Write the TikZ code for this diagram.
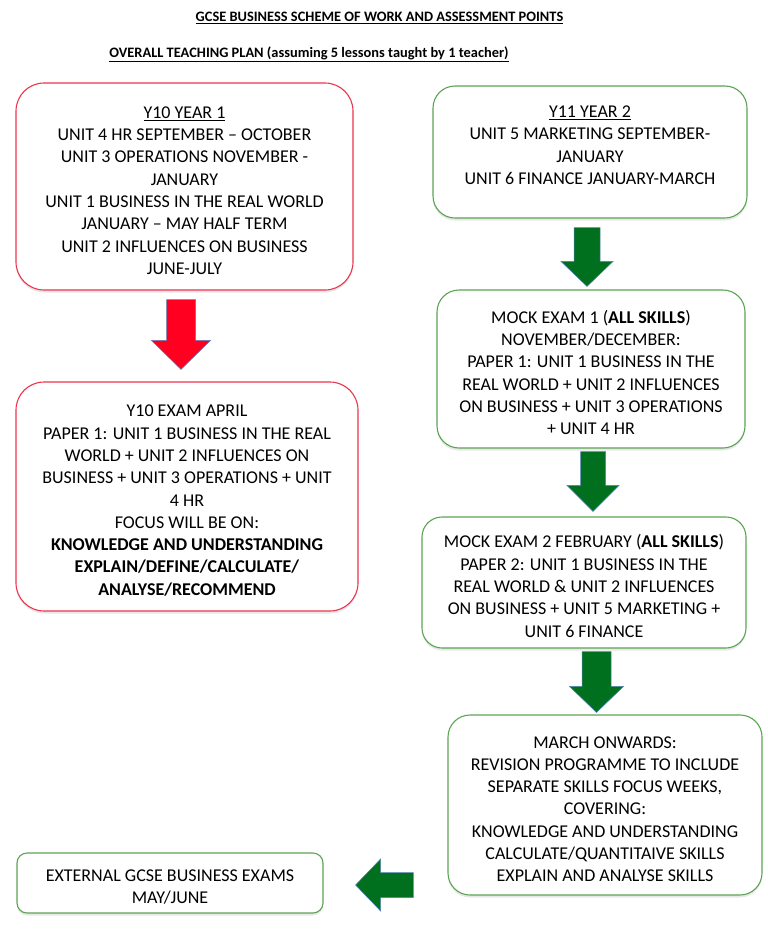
\documentclass[tikz,border=0pt]{standalone}
\usepackage{fontspec}
\setmainfont{Carlito}
\usetikzlibrary{calc,shadows}

\definecolor{boxred}{RGB}{236,52,78}
\definecolor{boxgreen}{RGB}{92,164,84}
\definecolor{arrred}{RGB}{255,0,32}
\definecolor{arrgreen}{RGB}{0,112,30}
\definecolor{arredge}{RGB}{84,130,190}

% extra room above the first text line
\newcommand{\topgap}{\rule{0pt}{20pt}}

% block arrow pointing down: [style]{top}{tip}{half shaft}{half head}{head length}
\newcommand{\downblock}[6][greenarrow]{%
  \draw[#1] let \p1=(#2), \p2=(#3) in
    (\x1-#4pt,\y1) -- (\x1+#4pt,\y1) -- (\x1+#4pt,\y2+#6pt) -- (\x1+#5pt,\y2+#6pt)
    -- (\x1,\y2) -- (\x1-#5pt,\y2+#6pt) -- (\x1-#4pt,\y2+#6pt) -- cycle;}

\begin{document}
\begin{tikzpicture}[x=1pt,y=-1pt,
    plan/.style={rectangle,draw,line width=1.1pt,align=center,inner sep=2pt,
      font=\fontsize{18}{22.3}\selectfont,fill=white,
      drop shadow={shadow xshift=0pt,shadow yshift=-2.5pt,opacity=0.18}},
    redbox/.style={plan,draw=boxred,rounded corners=28pt},
    greenbox/.style={plan,draw=boxgreen,rounded corners=22pt},
    greenarrow/.style={fill=arrgreen,draw=arredge,line width=0.5pt,line join=miter},
    redarrow/.style={greenarrow,fill=arrred},
    heading/.style={font=\fontsize{14.4}{16}\selectfont\bfseries}]

  \useasboundingbox (0,0) rectangle (768,930);

  %--- headings ---
  \node[heading] (title) at (379.5,18) {\underline{GCSE BUSINESS SCHEME OF WORK AND ASSESSMENT POINTS}};
  \node[heading] (plan) at (309,54) {\underline{OVERALL TEACHING PLAN (assuming 5 lessons taught by 1 teacher)}};

  %--- year 10 column ---
  \node[redbox,minimum width=337,minimum height=207] (y10) at (184.5,186.5)
    {\topgap\underline{Y10 YEAR 1}\\
     UNIT 4 HR SEPTEMBER – OCTOBER\\
     UNIT 3 OPERATIONS NOVEMBER -\\
     JANUARY\\
     UNIT 1 BUSINESS IN THE REAL WORLD\\
     JANUARY – MAY HALF TERM\\
     UNIT 2 INFLUENCES ON BUSINESS\\
     JUNE-JULY};
  \node[redbox,minimum width=342,minimum height=229] (exam10) at (187,496.5)
    {\topgap Y10 EXAM APRIL\\
     PAPER 1: UNIT 1 BUSINESS IN THE REAL\\
     WORLD + UNIT 2 INFLUENCES ON\\
     BUSINESS + UNIT 3 OPERATIONS + UNIT\\
     4 HR\\
     FOCUS WILL BE ON:\\
     \textbf{KNOWLEDGE AND UNDERSTANDING}\\
     \textbf{EXPLAIN/DEFINE/CALCULATE/}\\
     \textbf{ANALYSE/RECOMMEND}};

  %--- year 11 column ---
  \node[greenbox,minimum width=314,minimum height=132] (y11) at (590,152)
    {\topgap\underline{Y11 YEAR 2}\\
     UNIT 5 MARKETING SEPTEMBER-\\
     JANUARY\\
     UNIT 6 FINANCE JANUARY-MARCH\\
     ~};
  \node[greenbox,minimum width=308,minimum height=158] (mock1) at (591,369)
    {\topgap MOCK EXAM 1 (\textbf{ALL SKILLS})\\
     NOVEMBER/DECEMBER:\\
     PAPER 1: UNIT 1 BUSINESS IN THE\\
     REAL WORLD + UNIT 2 INFLUENCES\\
     ON BUSINESS + UNIT 3 OPERATIONS\\
     + UNIT 4 HR};
  \node[greenbox,rounded corners=20pt,minimum width=324,minimum height=131] (mock2) at (584,582.5)
    {\topgap MOCK EXAM 2 FEBRUARY (\textbf{ALL SKILLS})\\
     PAPER 2: UNIT 1 BUSINESS IN THE\\
     REAL WORLD \& UNIT 2 INFLUENCES\\
     ON BUSINESS + UNIT 5 MARKETING +\\
     UNIT 6 FINANCE};
  \node[greenbox,minimum width=314,minimum height=180] (revise) at (605,805)
    {\topgap MARCH ONWARDS:\\
     REVISION PROGRAMME TO INCLUDE\\
     SEPARATE SKILLS FOCUS WEEKS,\\
     COVERING:\\
     KNOWLEDGE AND UNDERSTANDING\\
     CALCULATE/QUANTITAIVE SKILLS\\
     EXPLAIN AND ANALYSE SKILLS};
  \node[greenbox,rounded corners=10pt,minimum width=306,minimum height=60] (exams) at (170,883)
    {\topgap EXTERNAL GCSE BUSINESS EXAMS\\
     MAY/JUNE};

  %--- block arrows between boxes ---
  \coordinate (rtop) at ($(y10.south)+(-3.5,9)$);
  \coordinate (rtip) at ($(exam10.north)+(0,-12)$);
  \downblock[redarrow]{rtop}{rtip}{14.5}{29.5}{29}

  \coordinate (g1top) at ($(y11.south)+(-3,9)$);
  \coordinate (g1tip) at ($(mock1.north)+(0,-3)$);
  \downblock{g1top}{g1tip}{13}{26}{25}

  \coordinate (g2top) at ($(mock1.south)+(2,3)$);
  \coordinate (g2tip) at ($(mock2.north)+(0,-5)$);
  \downblock{g2top}{g2tip}{12.5}{26}{26}

  \coordinate (g3top) at ($(mock2.south)+(12.5,3)$);
  \coordinate (g3tip) at ($(revise.north)+(0,-2)$);
  \downblock{g3top}{g3tip}{14.5}{27}{26}

  % arrow pointing left to the final exams
  \coordinate (g4start) at ($(revise.west |- exams.east)+(-34,2)$);
  \coordinate (g4tip) at ($(exams.east)+(32,2)$);
  \draw[greenarrow] let \p1=(g4start), \p2=(g4tip) in
    (\x1,\y1+12.5pt) -- (\x1,\y1-12.5pt) -- (\x2+25pt,\y1-12.5pt) -- (\x2+25pt,\y1-26pt)
    -- (\x2,\y1) -- (\x2+25pt,\y1+26pt) -- (\x2+25pt,\y1+12.5pt) -- cycle;

\end{tikzpicture}
\end{document}
